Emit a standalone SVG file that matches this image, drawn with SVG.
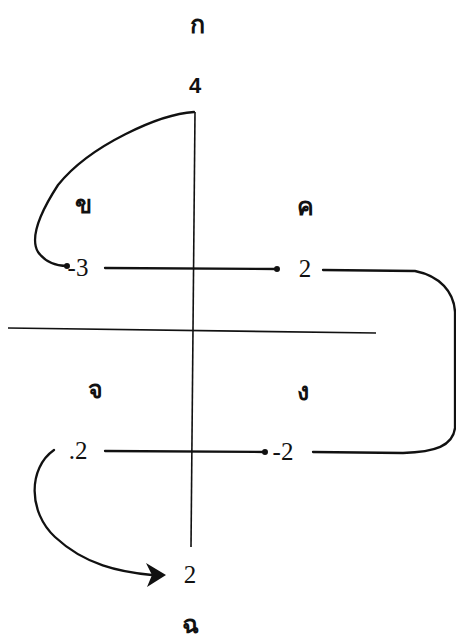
<svg xmlns="http://www.w3.org/2000/svg" width="456" height="643" viewBox="0 0 456 643">
<style>
.lbl{font-family:"Liberation Serif","DejaVu Serif",serif;font-size:25px;font-weight:bold;fill:#111;text-anchor:middle}
.num{font-family:"Liberation Serif","DejaVu Serif",serif;font-size:25px;fill:#111;text-anchor:middle}
.bold{font-family:"Liberation Sans","DejaVu Sans",sans-serif;font-weight:bold;font-size:22px;fill:#111;text-anchor:middle}
.ln{stroke:#111;stroke-width:2.3;fill:none;stroke-linecap:round}
.thin{stroke:#111;stroke-width:1.6;fill:none}
</style>
<defs>
<marker id="dot" viewBox="0 0 6 6" refX="3" refY="3" markerWidth="2.6" markerHeight="2.6"><circle cx="3" cy="3" r="3" fill="#111"/></marker>
</defs>
<rect width="456" height="643" fill="#fff"/>
<g id="axes">
<path class="thin" d="M195 112 L191 547"/>
<path class="thin" d="M8 328 L376 333"/>
</g>
<g id="labels">
<text id="ko" class="lbl" x="197" y="33">ก</text>
<text id="kho" class="lbl" x="83" y="213">ข</text>
<text id="kho2" class="lbl" x="305" y="215">ค</text>
<text id="cho" class="lbl" x="95" y="398">จ</text>
<text id="ngo" class="lbl" x="303" y="400">ง</text>
<text id="chho" class="lbl" x="190" y="633">ฉ</text>
</g>
<g id="n4"><text class="bold" x="195" y="93">4</text></g>
<g id="nm3"><text class="num" x="78" y="276">-3</text></g>
<g id="n2a"><text class="num" x="305" y="277">2</text></g>
<g id="n2b"><text class="num" x="78" y="459">.2</text></g>
<g id="nm2"><text class="num" x="283" y="460">-2</text></g>
<g id="n2c"><text class="num" x="190" y="583">2</text></g>
<g id="connectors">
<path class="ln" d="M194 112 C160 114, 90 145, 58 185 C45 205, 28 235, 38 252 C46 263, 58 266, 67 266" marker-end="url(#dot)"/>
<path class="ln" d="M105 268 L277 269" marker-end="url(#dot)"/>
<path class="ln" d="M323 270 L415 271 C440 276, 454 292, 455 312 L455 428 C453 446, 435 452, 403 453 L313 452"/>
<path class="ln" d="M105 451 L265 452" marker-end="url(#dot)"/>
<path class="ln" d="M54 450 C28 468, 28 512, 55 537 C85 565, 120 572, 152 575"/>
<path d="M166 575 L146 563 L152 575 L147 587 Z" fill="#111"/>
</g>
</svg>
